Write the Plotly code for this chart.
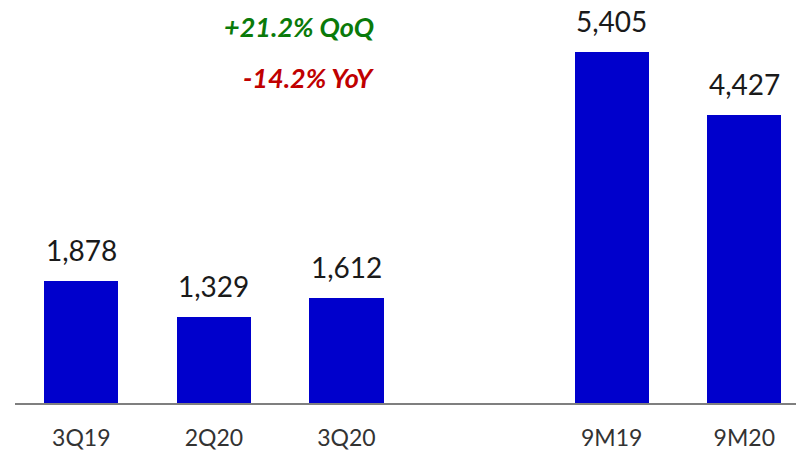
import plotly.graph_objects as go

# Period labels and values (slot positions leave a gap between quarters and 9M totals)
periods = ["3Q19", "2Q20", "3Q20", "9M19", "9M20"]
slots = [0, 1, 2, 4, 5]
values = [1878, 1329, 1612, 5405, 4427]
value_labels = ["1,878", "1,329", "1,612", "5,405", "4,427"]

qoq_text = "+21.2% QoQ"
yoy_text = "-14.2% YoY"

FONT = "Lato, 'Open Sans', sans-serif"
BAR_COLOR = "#0000CC"

fig = go.Figure()
fig.add_trace(go.Bar(
    x=slots,
    y=values,
    width=0.56,
    marker=dict(color=BAR_COLOR, line=dict(width=0)),
    hoverinfo="skip",
))

# Value labels above each bar
for xs, v, lab in zip(slots, values, value_labels):
    fig.add_annotation(
        x=xs, y=v, text=lab, showarrow=False,
        xanchor="center", yanchor="bottom", yshift=12,
        font=dict(family=FONT, size=28, color="#1a1a1a"),
    )

W, H = 796, 453
L, R, T, B = 15, 0, 0, 50
pw, ph = W - L - R, H - T - B


def px_to_paper(px, py):
    return (px - L) / pw, 1 - (py - T) / ph


# Growth callouts
qx, qy = px_to_paper(376, 27)
fig.add_annotation(
    x=qx, y=qy, xref="paper", yref="paper", text=f"<b><i>{qoq_text}</i></b>",
    showarrow=False, xanchor="right", yanchor="middle",
    font=dict(family=FONT, size=27, color="#0A7A0A"),
)
yx, yy = px_to_paper(376, 77)
fig.add_annotation(
    x=yx, y=yy, xref="paper", yref="paper", text=f"<b><i>{yoy_text}</i></b>",
    showarrow=False, xanchor="right", yanchor="middle",
    font=dict(family=FONT, size=27, color="#C00000"),
)

fig.update_layout(
    width=W, height=H,
    margin=dict(l=L, r=R, t=T, b=B),
    paper_bgcolor="white", plot_bgcolor="white",
    showlegend=False,
    bargap=0,
    xaxis=dict(
        range=[-0.5, 5.39],
        tickmode="array", tickvals=slots, ticktext=periods,
        showgrid=False, zeroline=False,
        showline=True, linecolor="#7f7f7f", linewidth=2,
        ticks="", ticklabelstandoff=13,
        tickfont=dict(family=FONT, size=23, color="#333333"),
        fixedrange=True,
    ),
    yaxis=dict(
        range=[0, 6200],
        visible=False, showgrid=False, zeroline=False,
        fixedrange=True,
    ),
)

fig.write_html("out.html")
